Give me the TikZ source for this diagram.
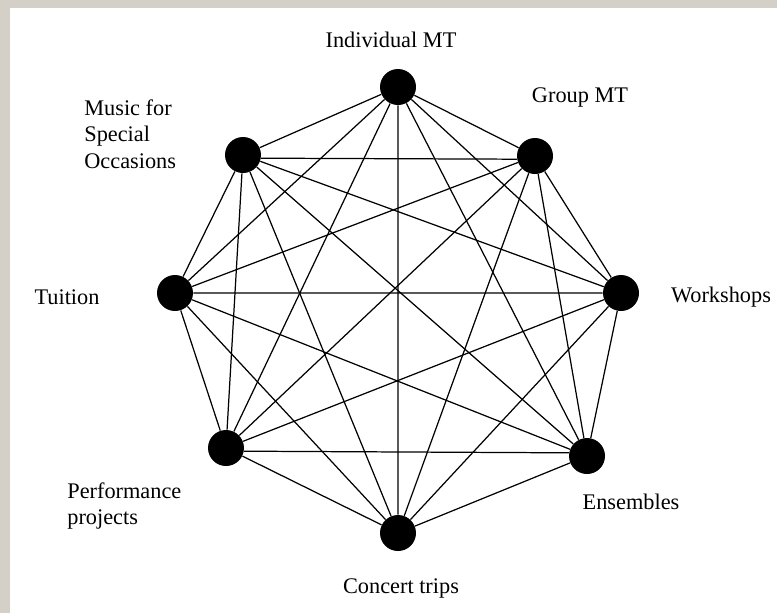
\documentclass[tikz,border=0pt]{standalone}
\usepackage{fontspec}
\setmainfont{Liberation Serif}
\usetikzlibrary{positioning}

\begin{document}
\begin{tikzpicture}
	[
		x=0.02cm, y=-0.02cm,
		dotnode/.style={circle, draw=none, fill=black, minimum size=0.72cm, inner sep=0pt},
		labelnode/.style={inner sep=0pt, font=\fontsize{12.7}{15}\selectfont},
		edge/.style={draw=black, line width=0.7pt},
	]

	\fill[fill={rgb,255:red,212;green,208;blue,200}] (0,0) rectangle (777,613);
	\fill[white] (10,8) rectangle (777,613);
	\useasboundingbox (0,0) rectangle (777,613);

	\node[dotnode] (indiv) at(398,87) {};
	\node[dotnode] (group) at(535,156) {};
	\node[dotnode] (workshops) at(621,293) {};
	\node[dotnode] (ensembles) at(587,456) {};
	\node[dotnode] (concert) at(398,533) {};
	\node[dotnode] (performance) at(226,448) {};
	\node[dotnode] (tuition) at(175,293) {};
	\node[dotnode] (special) at(243,155) {};

	\draw[edge] (indiv) -- (group) (indiv) -- (workshops) (indiv) -- (ensembles) (indiv) -- (concert) (indiv) -- (performance) (indiv) -- (tuition) (indiv) -- (special);
	\draw[edge] (group) -- (workshops) (group) -- (ensembles) (group) -- (concert) (group) -- (performance) (group) -- (tuition) (group.190) -- (special.-10);
	\draw[edge] (workshops) -- (ensembles) (workshops) -- (concert) (workshops) -- (performance) (workshops) -- (tuition) (workshops) -- (special);
	\draw[edge] (ensembles) -- (concert) (ensembles.170) -- (performance.-10) (ensembles) -- (tuition) (ensembles) -- (special);
	\draw[edge] (concert) -- (performance) (concert) -- (tuition) (concert) -- (special);
	\draw[edge] (performance) -- (tuition) (performance) -- (special);
	\draw[edge] (tuition) -- (special);

	\node [labelnode] (textindiv) at(391,40) {Individual MT};
	\node [labelnode] (textgroup) at(580,97) {Group MT};
	\node [labelnode, anchor=west, align=left] (textspecial) at(84,134) {Music for\\Special\\Occasions};
	\node [labelnode] (texttuition) at(67,297) {Tuition};
	\node [labelnode] (textworkshops) at(721,297) {Workshops};
	\node [labelnode, anchor=west, align=left] (textperformance) at(67,506) {Performance\\projects};
	\node [labelnode] (textensembles) at(631,502) {Ensembles};
	\node [labelnode] (textconcert) at(401,588) {Concert trips};

\end{tikzpicture}
\end{document}
